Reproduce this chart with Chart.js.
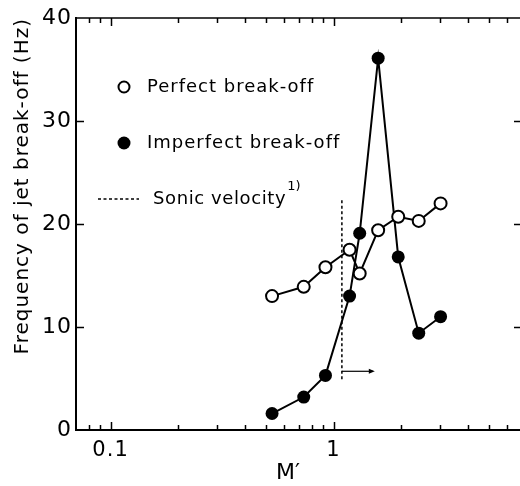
<!DOCTYPE html>
<html><head><meta charset="utf-8">
<script src="https://cdn.jsdelivr.net/npm/chart.js@4"></script>
<style>html,body{margin:0;padding:0;overflow:hidden;background:#fff}canvas{display:block}</style>
</head><body>
<canvas id="c" width="530" height="486"></canvas>
<script>
// ---- data ----
const mValues      = [0.53, 0.735, 0.92, 1.18, 1.31, 1.585, 1.95, 2.41, 3.02];
const perfectHz    = [13.0, 13.9, 15.8, 17.5, 15.2, 19.4, 20.7, 20.3, 22.0];
const imperfectHz  = [1.6, 3.2, 5.3, 13.0, 19.1, 36.1, 16.8, 9.4, 11.0];
const sonicM       = [1.09, 1.09];
const sonicHz      = [22.3, 4.9];
const arrowM       = [1.09, 1.5];
const arrowHz      = [5.7, 5.7];
const xTickLabels  = [0.1, 1];
const xMinorTicks  = [0.08, 0.09, 0.2, 0.3, 0.4, 0.5, 0.6, 0.7, 0.8, 0.9, 2, 3, 4, 5, 6];
const yTickValues  = [0, 10, 20, 30, 40];
const seriesNames  = ['Perfect break-off', 'Imperfect break-off', 'Sonic velocity'];
const yTitle = 'Frequency of jet break-off (Hz)';
const xTitle = 'M\u2032';

const pts = (xs, ys) => xs.map((x, i) => ({x, y: ys[i]}));
const FONT = '"DejaVu Sans", sans-serif';

const spacing = {
  id: 'spacing',
  beforeLayout(chart) { chart.ctx.letterSpacing = '1px'; },
  beforeDraw(chart) { chart.ctx.letterSpacing = '1px'; }
};

const decor = {
  id: 'decor',
  afterDraw(chart) {
    const {ctx, chartArea: a, scales: {x, y}} = chart;
    ctx.save();
    ctx.letterSpacing = '1px';
    ctx.strokeStyle = '#000';
    ctx.fillStyle = '#000';
    // top border
    ctx.lineWidth = 1.5;
    ctx.beginPath(); ctx.moveTo(a.left, a.top); ctx.lineTo(a.right, a.top); ctx.stroke();
    // x ticks bottom & top
    const xt = (v, len) => {
      const px = Math.round(x.getPixelForValue(v)) + 0.5;
      ctx.beginPath();
      ctx.moveTo(px, a.bottom); ctx.lineTo(px, a.bottom - len);
      ctx.moveTo(px, a.top); ctx.lineTo(px, a.top + len);
      ctx.stroke();
    };
    xMinorTicks.forEach(v => xt(v, 5));
    xTickLabels.forEach(v => xt(v, 8));
    // y ticks left & right
    yTickValues.slice(1, -1).forEach(v => {
      const py = Math.round(y.getPixelForValue(v)) + 0.5;
      ctx.beginPath();
      ctx.moveTo(a.left, py); ctx.lineTo(a.left + 8, py);
      ctx.moveTo(a.right, py); ctx.lineTo(a.right - 8, py);
      ctx.stroke();
    });
    // arrow head
    const ax = x.getPixelForValue(arrowM[1]), ay = y.getPixelForValue(arrowHz[1]);
    ctx.beginPath(); ctx.moveTo(ax + 2, ay); ctx.lineTo(ax - 4, ay - 2.5); ctx.lineTo(ax - 4, ay + 2.5); ctx.closePath(); ctx.fill();

    // legend
    ctx.font = '18px ' + FONT;
    ctx.textBaseline = 'middle';
    ctx.textAlign = 'left';
    const lx = 124, tx = 147;
    ctx.lineWidth = 2;
    ctx.beginPath(); ctx.arc(lx, 87, 5.5, 0, Math.PI * 2);
    ctx.fillStyle = '#fff'; ctx.fill(); ctx.stroke();
    ctx.fillStyle = '#000';
    ctx.fillText(seriesNames[0], tx, 87);
    ctx.beginPath(); ctx.arc(lx, 143, 6.5, 0, Math.PI * 2); ctx.fill();
    ctx.fillText(seriesNames[1], tx, 143);
    ctx.lineWidth = 1.5;
    ctx.setLineDash([3, 2.5]);
    ctx.beginPath(); ctx.moveTo(98, 199); ctx.lineTo(139, 199); ctx.stroke();
    ctx.setLineDash([]);
    ctx.letterSpacing = '0.6px';
    ctx.fillText(seriesNames[2], 153, 199);
    const w = ctx.measureText(seriesNames[2]).width;
    ctx.font = '13px ' + FONT;
    ctx.letterSpacing = '0px';
    ctx.fillText('1)', 153 + w + 1, 187);

    // x title
    ctx.font = '22px ' + FONT;
    ctx.textAlign = 'center';
    ctx.fillText(xTitle, 288, 473);
    ctx.restore();
  }
};

new Chart(document.getElementById('c'), {
  type: 'scatter',
  data: {
    datasets: [
      { label: seriesNames[0], data: pts(mValues, perfectHz), showLine: true,
        borderColor: '#000', borderWidth: 2, pointRadius: 6, pointBorderWidth: 2,
        pointBackgroundColor: '#fff', pointBorderColor: '#000' },
      { label: seriesNames[1], data: pts(mValues, imperfectHz), showLine: true,
        borderColor: '#000', borderWidth: 2, pointRadius: 6.5, pointBorderWidth: 0,
        pointBackgroundColor: '#000', pointBorderColor: '#000' },
      { label: seriesNames[2], data: pts(sonicM, sonicHz), showLine: true,
        borderColor: '#000', borderWidth: 1.5, borderDash: [3, 2.5], pointRadius: 0 },
      { label: 'arrow', data: pts(arrowM, arrowHz), showLine: true,
        borderColor: '#000', borderWidth: 1.2, pointRadius: 0 }
    ]
  },
  options: {
    responsive: false,
    animation: false,
    devicePixelRatio: 1,
    layout: { padding: { top: 18, right: 2, left: 0, bottom: 0 } },
    plugins: { legend: { display: false }, tooltip: { enabled: false } },
    scales: {
      x: {
        type: 'logarithmic', min: 0.07, max: 7,
        grid: { display: false, drawTicks: false },
        border: { display: true, color: '#000', width: 2 },
        afterBuildTicks: s => { s.ticks = xTickLabels.map(v => ({ value: v })); },
        afterFit: s => { s.height = 56; },
        ticks: { color: '#000', font: { family: FONT, size: 21 }, padding: 8,
                 maxRotation: 0, autoSkip: false, callback: v => String(v) }
      },
      y: {
        type: 'linear', min: 0, max: 40,
        grid: { display: false, drawTicks: false },
        border: { display: true, color: '#000', width: 2 },
        afterBuildTicks: s => { s.ticks = yTickValues.map(v => ({ value: v })); },
        afterFit: s => { s.width = 76; },
        ticks: { color: '#000', font: { family: FONT, size: 22 }, padding: 4 },
        title: { display: true, text: yTitle, color: '#000', align: 'end',
                 font: { family: FONT, size: 20 }, padding: { top: 11, bottom: 0 } }
      }
    }
  },
  plugins: [spacing, decor]
});
</script>
</body></html>
